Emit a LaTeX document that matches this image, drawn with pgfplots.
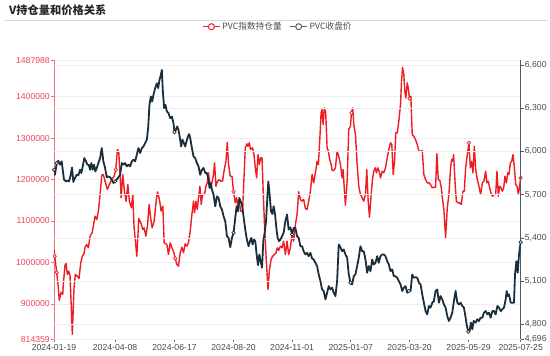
\documentclass[border=0pt]{standalone}
\usepackage{pgfplots}
\pgfplotsset{compat=1.18}
\usepackage{fontspec}
\setmainfont{Liberation Sans}
\newfontfamily\cjk{Noto Sans CJK SC}
\definecolor{redline}{HTML}{EE1D23}
\definecolor{navyline}{HTML}{1B2E3C}
\definecolor{redaxis}{HTML}{F2707A}
\definecolor{redlab}{HTML}{F0465A}
\definecolor{gridc}{HTML}{EEEEEE}
\definecolor{axgray}{HTML}{6E7079}
\definecolor{rightaxis}{HTML}{4D5B68}
\definecolor{labgray}{HTML}{4A4A4A}
\pgfplotsset{
  common/.style={
    at={(54bp,16.7bp)}, anchor=south west, scale only axis,
    width=466.7bp, height=279.1bp,
    xmin=0, xmax=466,
    tick align=outside, major tick length=3bp,
    ymajorgrids, major grid style={gridc, line width=0.6bp},
    /pgf/number format/assume math mode=true,
    scaled ticks=false,
    tick label style={font=\fontsize{8.7}{10}\selectfont},
  }
}
\begin{document}
\begin{tikzpicture}
\path[use as bounding box] (0bp,0bp) rectangle (550bp,356bp);
\node[anchor=west, font=\cjk\bfseries\fontsize{11.3}{13}\selectfont, text=black!85, inner sep=0pt] at (9bp,345.5bp) {V持仓量和价格关系};
\draw[color=black!15, line width=0.8bp] (4bp,336bp) -- (548bp,336bp);

\begin{axis}[common,
  ymin=814359, ymax=1487988,
  axis y line*=left, axis x line*=bottom,
  x axis line style={axgray, line width=0.8bp},
  y axis line style={redaxis, line width=0.8bp},
  xtick={0,61,120.3,179.3,237.7,296.3,355,414,466},
  xticklabels={2024-01-19,2024-04-08,2024-06-17,2024-08-20,2024-11-01,2025-01-07,2025-03-20,2025-05-29,2025-07-25},
  xtick style={axgray, line width=0.6bp},
  ytick style={redaxis, line width=0.6bp},
  ytick={814359,900000,1000000,1100000,1200000,1300000,1400000,1487988},
  yticklabel style={text=redlab, inner xsep=1bp, /pgf/number format/.cd, fixed, precision=0, 1000 sep={}},
  xticklabel style={text=labgray, inner ysep=1.5bp},
]
\addplot[redline, line width=1.4bp, line join=round, forget plot] coordinates {
(0,1031000)(0.7,1015000)(2.7,975700)(4.3,939500)(5.3,908100)(7,927400)(8.7,922600)(9.3,946700)(11,993300)(12,997400)(13.3,970900)(14.7,978800)(16,966800)(17.3,891300)(18.3,826100)(20,939500)(21.3,970900)(23.3,966800)(25,961200)(26.7,999100)(28.3,1015000)(30,1020800)(31,1036700)(32.7,1043200)(34.3,1035300)(36,1063200)(38,1071400)(39.3,1087400)(41,1111500)(42.7,1103500)(44.3,1123500)(46,1163800)(47.7,1210400)(49.3,1212100)(51,1195900)(53.3,1175900)(55.3,1187900)(57.7,1200000)(60,1208000)(61.7,1224100)(63.3,1272400)(64.7,1264400)(66,1212100)(67,1155900)(68.7,1212100)(70.3,1171800)(72,1147700)(73.7,1187900)(75.3,1147700)(77.3,1131700)(78.7,1163800)(80,1083500)(81.3,1051200)(82.7,1015000)(84.7,1105900)(86.7,1095600)(88.7,1079400)(90,1083500)(91.7,1063200)(93.3,1087400)(95,1139700)(96.7,1103500)(98,1083500)(100,1099400)(102,1147700)(103.3,1170300)(105.3,1151800)(107,1123500)(108.7,1135600)(110,1047300)(112.7,1043200)(114.3,1019100)(116,1047300)(117.7,1035300)(119.3,1027100)(121,1009500)(122.7,995000)(124.3,990900)(126,1023200)(127.7,1036700)(129.3,1023200)(131,1044900)(132.7,1039100)(134.3,1047300)(136,1075300)(137.7,1115600)(139.3,1147700)(140.3,1119700)(141.7,1147700)(143,1127600)(144.3,1155900)(145.7,1183800)(147,1139700)(148.3,1163800)(150.3,1163800)(151.7,1183800)(153,1192000)(154.3,1216200)(156,1180000)(157.7,1192000)(159.3,1212100)(160.3,1240300)(161.7,1183800)(163.3,1195900)(165,1200000)(166.7,1195900)(168.3,1195900)(170,1224100)(171.7,1244100)(173,1290000)(174.3,1236200)(176,1208000)(177.7,1208000)(179.3,1170300)(181,1143800)(182.3,1155900)(183.7,1135600)(185,1147700)(186.3,1123500)(188.3,1123500)(189.7,1204100)(191,1276500)(192.7,1286100)(193.7,1280300)(195,1288500)(196.3,1272400)(198.3,1276500)(199.7,1260300)(201,1228200)(202.3,1204100)(203.7,1260300)(205,1236200)(206.3,1252300)(207.7,1252300)(209,1163800)(210.3,1083500)(212,1002900)(213.7,934700)(215,978800)(216.7,1007000)(218.3,1015000)(220,1019100)(221.7,1023200)(223,1035300)(224.3,1028700)(226,1039100)(227.7,1035300)(229.3,1051200)(231,1019100)(232.7,1051200)(234.3,1019100)(236,1035300)(237.7,1067300)(239.3,1051200)(241,1091500)(242.7,1115600)(244.3,1170300)(246,1151800)(247.7,1147700)(249.3,1151800)(251,1130100)(252.7,1127600)(254.3,1147700)(256,1171800)(257.7,1212100)(259.3,1192000)(261,1216200)(262.7,1244100)(264,1236200)(265.3,1292400)(266.7,1360900)(267.7,1368800)(268.7,1332700)(270,1372900)(271.3,1360900)(272.7,1276500)(274,1268300)(275.3,1248200)(276.7,1236200)(277.7,1221700)(279.3,1221700)(281,1228200)(282.7,1268300)(284.3,1256200)(286,1236200)(287.7,1204100)(288.7,1224100)(290,1171800)(291,1138000)(292.7,1195900)(294.3,1320600)(296,1328600)(297,1360900)(298.3,1372900)(299.3,1332700)(301,1308500)(302.7,1236200)(304.3,1183800)(306,1163800)(307.7,1155900)(309.3,1147700)(311,1163800)(312.3,1224100)(313.7,1147700)(315,1109100)(316.7,1163800)(318,1200000)(319.3,1220000)(320.7,1228200)(322,1216200)(323.3,1228200)(324.7,1220000)(326,1204100)(327.7,1220000)(329.3,1216200)(331,1228200)(332.7,1252300)(334.3,1272400)(336,1288500)(337.3,1284400)(338.7,1212100)(340,1244100)(341.3,1312600)(342.7,1312600)(344.3,1340600)(346,1380900)(347,1437100)(348,1470900)(349.3,1453300)(350.3,1413000)(351.3,1397100)(352.7,1433200)(353.7,1421200)(355,1395400)(356.3,1400900)(357.7,1308500)(359.3,1304400)(361,1296500)(362.7,1284400)(364.3,1268300)(366,1268300)(367.7,1270000)(369.3,1212100)(371,1200000)(372.7,1192000)(374.3,1192000)(376,1187900)(377.7,1180000)(379.3,1181400)(381,1181400)(382.3,1262000)(383.7,1200000)(385.3,1197600)(386.7,1180000)(388,1151800)(389.3,1127600)(391,1059400)(392.7,1131700)(394.3,1163800)(396,1228200)(397,1248200)(398,1244100)(399,1260300)(400.3,1200000)(401.7,1147700)(403.3,1143800)(405,1143800)(406.7,1139700)(408.3,1171800)(409.7,1171800)(411,1228200)(412.7,1260300)(414.3,1288500)(415.7,1228200)(417,1244100)(418.3,1216200)(419.7,1280300)(421,1224100)(422.7,1200000)(424.3,1183800)(426,1163800)(427.7,1192000)(429.3,1195900)(431,1220000)(432.3,1192000)(433.7,1195900)(435,1180000)(436.3,1167900)(437.7,1159700)(439.3,1163800)(441,1163800)(442.3,1220000)(443.7,1159700)(445,1183800)(446.3,1180000)(447.7,1171800)(449,1180000)(450.3,1208000)(451.7,1192000)(453,1216200)(454.3,1212100)(455.7,1240300)(457,1244100)(458.3,1260300)(459.7,1228200)(461,1187900)(462.3,1183800)(463.7,1163800)(466,1204100)
};
\addplot[only marks, mark=*, mark size=1.7bp, mark options={draw=redline, fill=white, line width=0.7bp}, forget plot] coordinates {
(0.7,1015000)(2.7,975700)(61.7,1224100)(121,1009500)(179.3,1170300)(297,1360900)(355,1395400)(414.3,1288500)(466,1204100)
};
\end{axis}

\begin{axis}[common,
  ymin=4696, ymax=6633,
  axis y line*=right, axis x line=none,
  y axis line style={rightaxis, line width=0.8bp},
  ytick style={rightaxis, line width=0.6bp},
  ytick={4696,4800,5100,5400,5700,6000,6300,6600},
  yticklabel style={text=labgray, inner xsep=1bp, /pgf/number format/.cd, fixed, precision=0, 1000 sep={,}},
  legend style={at={(0.48,1.12)}, anchor=center, draw=none, fill=none, legend columns=-1,
    font=\cjk\fontsize{8.7}{10}\selectfont, text=labgray, inner sep=0pt,
    /tikz/every even column/.append style={column sep=6bp}},
]
\addlegendimage{color=redline, line width=1bp, mark=*, mark size=3bp, mark options={fill=white}}
\addlegendentry{PVC指数持仓量}
\addlegendimage{color=navyline!75!white, line width=1bp, mark=*, mark size=3bp, mark options={fill=white}}
\addlegendentry{PVC收盘价}
\addplot[navyline, line width=1.8bp, line join=round, forget plot] coordinates {
(0,5873)(1,5838)(2.7,5919)(4.3,5935)(6,5908)(7.7,5931)(8.7,5873)(10,5804)(12,5792)(13.3,5797)(15,5792)(16.7,5838)(18,5889)(19.3,5788)(21,5816)(22.7,5838)(24.3,5834)(26,5873)(27.3,5850)(28.7,5896)(30.3,5954)(32,5931)(33.3,5908)(34.7,5908)(36,5873)(37.3,5919)(38.7,5873)(40,5908)(41.3,5861)(42.7,5885)(44.3,5919)(46,5954)(47.7,6023)(49.3,5931)(51,5885)(52.7,5820)(54.3,5827)(56,5820)(57.7,5804)(59.3,5781)(61,5792)(62.7,5804)(64.3,5820)(66,5838)(67.7,5919)(69.3,5908)(71,5919)(72.7,5896)(74.3,5908)(76,5896)(77.7,5931)(79.3,5942)(81,5931)(82.7,5977)(84.3,6023)(86,5989)(87.7,6023)(89.3,6034)(91,6058)(92.7,6081)(94,6162)(95.3,6323)(96.7,6381)(98,6346)(99.3,6392)(101,6439)(102.7,6473)(104,6439)(105.3,6496)(106.7,6531)(107.7,6565)(108.7,6415)(110,6300)(111.3,6323)(112.7,6277)(114.3,6266)(116,6231)(117.7,6242)(119.3,6196)(120.3,6134)(121.7,6150)(123,6173)(124.3,6150)(126,6081)(127,6034)(128.3,6081)(129.7,6058)(131,6034)(132.3,6069)(133.7,6104)(135,6120)(136.3,6081)(137.7,6023)(139.3,5965)(141,5954)(142.7,5919)(144.3,5896)(146,5838)(147.7,5873)(149.3,5885)(151,5850)(152.7,5850)(154.3,5804)(155.3,5746)(156.7,5781)(157.7,5735)(159.3,5700)(161,5619)(162.7,5688)(164.3,5677)(166,5619)(167.7,5596)(169.3,5550)(171,5515)(172.7,5411)(174.3,5400)(176,5335)(177.7,5400)(179.3,5435)(181,5539)(182.3,5619)(183.7,5584)(185,5677)(186.3,5654)(187.7,5631)(189,5562)(190.3,5492)(191.7,5423)(193,5377)(194.3,5342)(195.7,5377)(197,5400)(198.3,5354)(199.7,5388)(201,5377)(202.3,5285)(203.7,5211)(205,5285)(206.3,5238)(207.7,5193)(209,5377)(210.3,5435)(211.7,5515)(213,5677)(214,5792)(215.3,5700)(216.7,5584)(218,5566)(219.3,5619)(220.7,5566)(222,5469)(223.3,5400)(224.7,5377)(226,5388)(227.7,5411)(229.3,5435)(231,5515)(232.7,5562)(234.3,5458)(236,5474)(237.7,5423)(239.3,5469)(241,5469)(242.7,5411)(244.3,5400)(246,5342)(247.7,5342)(249.3,5307)(251,5285)(252.7,5296)(254.3,5273)(256,5296)(257.7,5257)(259.3,5250)(261,5227)(262.7,5204)(264.3,5146)(266,5100)(267.7,5042)(269.3,5031)(271,4973)(272.7,5019)(274.3,5065)(276,5042)(277.7,5054)(279.3,5019)(281,4996)(282.7,5100)(284.3,5354)(286,5335)(287.7,5307)(289.3,5319)(291,5285)(292.7,5262)(294.3,5146)(296,5089)(297.7,5077)(299.3,5134)(301,5146)(302.7,5204)(304.3,5262)(306,5342)(307.7,5307)(309.3,5307)(311,5250)(312.7,5158)(314.3,5204)(316,5169)(317.7,5250)(319.3,5215)(321,5227)(322.7,5273)(324.3,5227)(326,5273)(327.7,5285)(329.3,5285)(331,5273)(332.7,5238)(334.3,5215)(336,5169)(337.7,5181)(339.3,5134)(341,5134)(342.7,5123)(344.3,5100)(346,5077)(347.7,5031)(349.3,5054)(351,5065)(352.7,5019)(354.3,5031)(356,5031)(357.7,5146)(359.3,5123)(361,5127)(362.7,5123)(364.3,5089)(366,5077)(367.7,5008)(369.3,4950)(371,4892)(372.7,4869)(374.3,4927)(376,4916)(377.7,4950)(379.3,4961)(381,5031)(382.7,5042)(384.3,4950)(386,4996)(387.7,4973)(389.3,4938)(391,4916)(392.7,4857)(394.3,4823)(396,4846)(397.7,4881)(399.3,4961)(401,5031)(402.7,4950)(404.3,4938)(406,4950)(407.7,4927)(409.3,4916)(411,4846)(412.3,4788)(413.7,4749)(415,4754)(416.3,4812)(417.7,4765)(419,4823)(421,4812)(422.7,4835)(424.3,4823)(426,4846)(427.7,4846)(429.3,4881)(431,4892)(432.7,4869)(434.3,4881)(436,4846)(437.7,4892)(439.3,4892)(441,4869)(442.7,4927)(444.3,4916)(446,4892)(447.7,4904)(449.3,4916)(451,4973)(452,5031)(453,4996)(454.3,5008)(456,4950)(457.7,4950)(459.3,4950)(460.3,5146)(461.7,5238)(463,5158)(464.3,5285)(466,5370)
};
\addplot[only marks, mark=*, mark size=1.7bp, mark options={draw=navyline, fill=white, line width=0.7bp}, forget plot] coordinates {
(0,5873)(2.7,5919)(61,5792)(120.3,6134)(179.3,5435)(237.7,5423)(296,5089)(354.3,5031)(413.7,4749)(466,5370)
};
\end{axis}
\end{tikzpicture}
\end{document}
